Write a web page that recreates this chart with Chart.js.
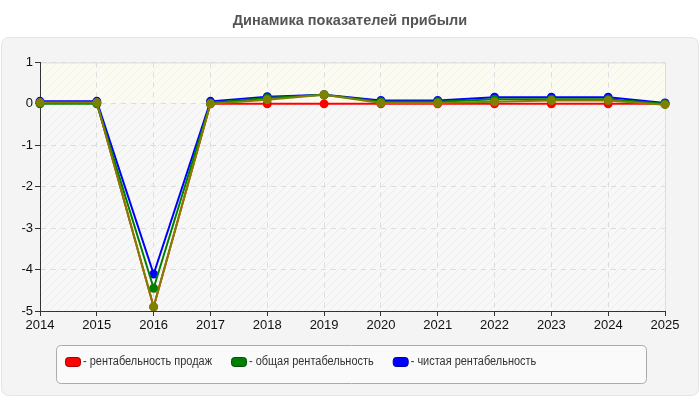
<!DOCTYPE html>
<html>
<head>
<meta charset="utf-8">
<script src="https://cdn.jsdelivr.net/npm/chart.js@4.4.1/dist/chart.umd.min.js"></script>
<style>
  html, body { margin: 0; padding: 0; background: #fff; }
  #wrap { width: 700px; height: 400px; }
</style>
</head>
<body>
<div id="wrap"><canvas id="profit-chart" width="700" height="400"></canvas></div>
<script>
var years = ["2014", "2015", "2016", "2017", "2018", "2019", "2020", "2021", "2022", "2023", "2024", "2025"];
var salesMargin = [0.03, 0.03, -4.9, 0.0, 0.0, 0.0, 0.0, 0.0, 0.0, 0.0, 0.0, 0.0];
var totalMargin = [0.0, 0.0, -4.45, 0.02, 0.14, 0.22, 0.05, 0.05, 0.11, 0.11, 0.11, 0.0];
var netMargin = [0.06, 0.06, -4.11, 0.06, 0.17, 0.22, 0.08, 0.08, 0.16, 0.16, 0.16, 0.02];
var extraSeries = [0.03, 0.03, -4.9, 0.0, 0.1, 0.22, 0.02, 0.02, 0.05, 0.08, 0.08, -0.02];
var legendNames = ["рентабельность продаж", "общая рентабельность", "чистая рентабельность"];

function makePattern(bg, line) {
  var c = document.createElement("canvas");
  c.width = 8; c.height = 8;
  var g = c.getContext("2d");
  g.fillStyle = bg;
  g.fillRect(0, 0, 8, 8);
  g.strokeStyle = line;
  g.lineWidth = 1;
  g.beginPath();
  g.moveTo(0, 8); g.lineTo(8, 0);
  g.moveTo(-4, 4); g.lineTo(4, -4);
  g.moveTo(4, 12); g.lineTo(12, 4);
  g.stroke();
  return g.createPattern(c, "repeat");
}

function roundRect(ctx, x, y, w, h, r) {
  ctx.beginPath();
  ctx.moveTo(x + r, y);
  ctx.lineTo(x + w - r, y);
  ctx.quadraticCurveTo(x + w, y, x + w, y + r);
  ctx.lineTo(x + w, y + h - r);
  ctx.quadraticCurveTo(x + w, y + h, x + w - r, y + h);
  ctx.lineTo(x + r, y + h);
  ctx.quadraticCurveTo(x, y + h, x, y + h - r);
  ctx.lineTo(x, y + r);
  ctx.quadraticCurveTo(x, y, x + r, y);
  ctx.closePath();
}

var swatchBorder = ["#a00000", "#005000", "#0000a0"];
var legendFamily = "'Liberation Sans', Arial, sans-serif";

var backdrop = {
  id: "backdrop",
  beforeDraw: function (chart) {
    var ctx = chart.ctx, a = chart.chartArea;
    ctx.save();
    roundRect(ctx, 1.5, 37.5, 697, 358, 8);
    ctx.fillStyle = "#f4f4f4";
    ctx.fill();
    ctx.strokeStyle = "#e4e4e4";
    ctx.stroke();

    var zero = chart.scales.y.getPixelForValue(0);
    ctx.fillStyle = makePattern("#fbfbf1", "#f3f3e8");
    ctx.fillRect(a.left, a.top, a.right - a.left, zero - a.top);
    ctx.fillStyle = makePattern("#f8f8f8", "#ececec");
    ctx.fillRect(a.left, zero, a.right - a.left, a.bottom - zero);
    ctx.strokeStyle = "#dddddd";
    ctx.lineWidth = 1;
    ctx.strokeRect(a.left + 0.5, a.top + 0.5, a.right - a.left, a.bottom - a.top);
    ctx.restore();
  },
  afterDraw: function (chart) {
    // legend box with the three named series
    var ctx = chart.ctx;
    ctx.save();
    roundRect(ctx, 56.5, 345.5, 590, 38, 5);
    ctx.fillStyle = "#fafafa";
    ctx.fill();
    ctx.strokeStyle = "#aaaaaa";
    ctx.lineWidth = 1;
    ctx.stroke();

    // the original uses a narrow face: squeeze a 12.5px font sideways
    ctx.font = "12.5px " + legendFamily;
    ctx.textBaseline = "middle";
    var sx = 129 / ctx.measureText("- " + legendNames[0]).width;
    var x = 65, cy = 362;
    chart.data.datasets.slice(0, 3).forEach(function (ds, i) {
      roundRect(ctx, x + 0.5, cy - 4.5, 15, 9, 3);
      ctx.fillStyle = ds.borderColor;
      ctx.fill();
      ctx.strokeStyle = swatchBorder[i];
      ctx.stroke();
      var txt = "- " + ds.label;
      ctx.save();
      ctx.translate(x + 18, cy);
      ctx.scale(sx, 1);
      ctx.fillStyle = "#333333";
      ctx.fillText(txt, 0, 0);
      ctx.restore();
      x += 18 + ctx.measureText(txt).width * sx + 19;
    });
    ctx.restore();
  }
};

function series(label, data, color, order) {
  return {
    label: label,
    data: data,
    order: order,
    borderColor: color,
    backgroundColor: color,
    pointBackgroundColor: color,
    pointBorderColor: color,
    borderWidth: 2,
    pointRadius: 3.5,
    pointHoverRadius: 4,
    tension: 0,
    fill: false
  };
}

new Chart(document.getElementById("profit-chart"), {
  type: "line",
  data: {
    labels: years,
    datasets: [
      series(legendNames[0], salesMargin, "#ff0000", 3),
      series(legendNames[1], totalMargin, "#008000", 1),
      series(legendNames[2], netMargin, "#0000ff", 2),
      series("", extraSeries, "#808000", 0)
    ]
  },
  plugins: [backdrop],
  options: {
    responsive: false,
    animation: false,
    layout: { padding: { left: 8, right: 8, top: 0, bottom: 55 } },
    plugins: {
      title: {
        display: true,
        text: "Динамика показателей прибыли",
        color: "#555555",
        font: { family: "Liberation Sans, Arial, sans-serif", size: 14.5, weight: "bold" },
        padding: { top: 12, bottom: 33 }
      },
      legend: { display: false },
      tooltip: { enabled: false }
    },
    scales: {
      x: {
        offset: false,
        grid: {
          color: "#dcdcdc",
          tickColor: "#333333",
          tickLength: 5,
          drawTicks: true
        },
        border: { color: "#333333", width: 1, dash: [5, 5] },
        ticks: {
          color: "#111111",
          font: { family: "Liberation Sans, Arial, sans-serif", size: 13 },
          padding: 2,
          maxRotation: 0
        },
        afterFit: function (scale) { scale.height = 34; }
      },
      y: {
        min: -5,
        max: 1,
        grid: {
          color: "#dcdcdc",
          tickColor: "#333333",
          tickLength: 5
        },
        border: { color: "#333333", width: 1, dash: [5, 5] },
        ticks: {
          stepSize: 1,
          color: "#111111",
          font: { family: "Liberation Sans, Arial, sans-serif", size: 13 },
          padding: 2
        },
        afterFit: function (scale) { scale.width = 32; }
      },
      spacer: {
        type: "linear",
        position: "right",
        grid: { display: false, drawTicks: false },
        border: { display: false },
        ticks: { display: false },
        afterFit: function (scale) { scale.width = 27; }
      }
    }
  }
});
</script>
</body>
</html>
